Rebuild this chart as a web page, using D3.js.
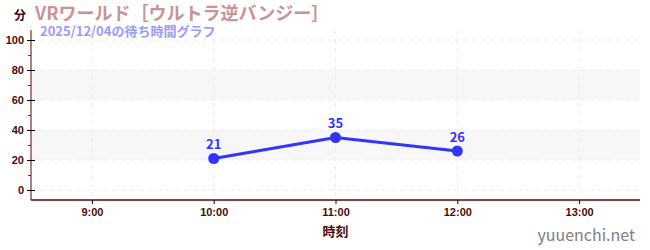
<!DOCTYPE html>
<html lang="ja">
<head>
<meta charset="UTF-8">
<title>待ち時間グラフ</title>
<script src="https://d3js.org/d3.v7.min.js"></script>
<style>
    body{ margin: 0; background: #fff; }
    svg{ display: block; font-family: "Noto Sans CJK JP", "Noto Sans", sans-serif; }
    .tick text{ fill: #4d0a0a; font-size: 11px; font-weight: bold; }
</style>
</head>
<body>
<script>
// データ
var times  = [10, 11, 12];          // 時刻（時）
var waits  = [21, 35, 26];          // 待ち時間（分）
var xTicks = [9, 10, 11, 12, 13];
var yTicks = [0, 20, 40, 60, 80, 100];
var bands  = [[20, 40], [60, 80]];

var width = 650, height = 250;
var mLeft = 31, mRight = 640, mTop = 30, mBottom = 200;

var svg = d3.select("body").append("svg")
    .attr("width", width)
    .attr("height", height);

var x = d3.scaleLinear().domain([8.5, 13.5]).range([mLeft, mRight]);
var y = d3.scaleLinear().domain([-6.67, 106.67]).range([mBottom, mTop]);

// 背景の帯
svg.selectAll(".band").data(bands).enter().append("rect")
    .attr("x", mLeft)
    .attr("width", mRight - mLeft)
    .attr("y", function(d) { return y(d[1]); })
    .attr("height", function(d) { return y(d[0]) - y(d[1]); })
    .attr("fill", "#f7f7f7");

// グリッド
svg.selectAll(".hgrid").data(yTicks).enter().append("line")
    .attr("x1", mLeft).attr("x2", mRight)
    .attr("y1", function(d) { return y(d); })
    .attr("y2", function(d) { return y(d); })
    .attr("stroke", "#ededed")
    .attr("stroke-dasharray", "5,4");

svg.selectAll(".vgrid").data(xTicks).enter().append("line")
    .attr("x1", function(d) { return x(d); })
    .attr("x2", function(d) { return x(d); })
    .attr("y1", mTop).attr("y2", mBottom)
    .attr("stroke", "#ededed")
    .attr("stroke-dasharray", "5,4");

// 副目盛り（赤）
svg.append("g")
    .attr("transform", "translate(" + mLeft + ",0)")
    .call(d3.axisLeft(y).tickValues([10, 30, 50, 70, 90]).tickSize(3).tickFormat(""))
    .call(function(g) {
        g.select(".domain").remove();
        g.selectAll("line").attr("stroke", "#e00000");
    });

// y軸
var yAxis = svg.append("g")
    .attr("transform", "translate(" + mLeft + ",0)")
    .call(d3.axisLeft(y).tickValues(yTicks).tickSize(4).tickPadding(3));
yAxis.select(".domain").attr("stroke", "#600").attr("d", "M0," + mTop + "V" + mBottom);
yAxis.selectAll(".tick line").attr("x1", 4).attr("stroke", "#000");

// x軸
var xAxis = svg.append("g")
    .attr("transform", "translate(0," + mBottom + ")")
    .call(d3.axisBottom(x).tickValues(xTicks).tickSize(4).tickPadding(4)
        .tickFormat(function(d) { return d + ":00"; }));
xAxis.select(".domain").attr("stroke", "#600").attr("stroke-width", 1.5).attr("d", "M" + mLeft + ",0H" + mRight);
xAxis.selectAll(".tick line").attr("stroke", "#000");

// 折れ線
var pts = times.map(function(t, i) { return [t, waits[i]]; });
svg.append("path")
    .datum(pts)
    .attr("fill", "none")
    .attr("stroke", "#3333ff")
    .attr("stroke-width", 3)
    .attr("d", d3.line().x(function(d) { return x(d[0]); }).y(function(d) { return y(d[1]); }));

svg.selectAll(".pt").data(pts).enter().append("circle")
    .attr("cx", function(d) { return x(d[0]); })
    .attr("cy", function(d) { return y(d[1]); })
    .attr("r", 5.5)
    .attr("fill", "#3333ff");

svg.selectAll(".lbl").data(pts).enter().append("text")
    .attr("x", function(d) { return x(d[0]); })
    .attr("y", function(d) { return y(d[1]) - 9; })
    .attr("text-anchor", "middle")
    .attr("fill", "#3333ff")
    .attr("font-size", 13)
    .attr("font-weight", "bold")
    .text(function(d) { return d[1]; });

// タイトル等
svg.append("text")
    .attr("x", 14).attr("y", 20)
    .attr("fill", "#3d0a0a").attr("font-size", 12).attr("font-weight", "bold")
    .text("分");

svg.append("text")
    .attr("x", 35).attr("y", 20)
    .attr("fill", "#c89494").attr("font-size", 18).attr("font-weight", "bold")
    .text("VRワールド［ウルトラ逆バンジー］");

svg.append("text")
    .attr("x", 40).attr("y", 36)
    .attr("fill", "#9a9aff").attr("font-size", 13).attr("font-weight", "bold")
    .text("2025/12/04の待ち時間グラフ");

svg.append("text")
    .attr("x", (mLeft + mRight) / 2).attr("y", 236)
    .attr("text-anchor", "middle")
    .attr("fill", "#4d0a0a").attr("font-size", 13).attr("font-weight", "bold")
    .text("時刻");

svg.append("text")
    .attr("x", 635).attr("y", 241)
    .attr("text-anchor", "end")
    .attr("fill", "#808080").attr("font-size", 16)
    .text("yuuenchi.net");
</script>
</body>
</html>
